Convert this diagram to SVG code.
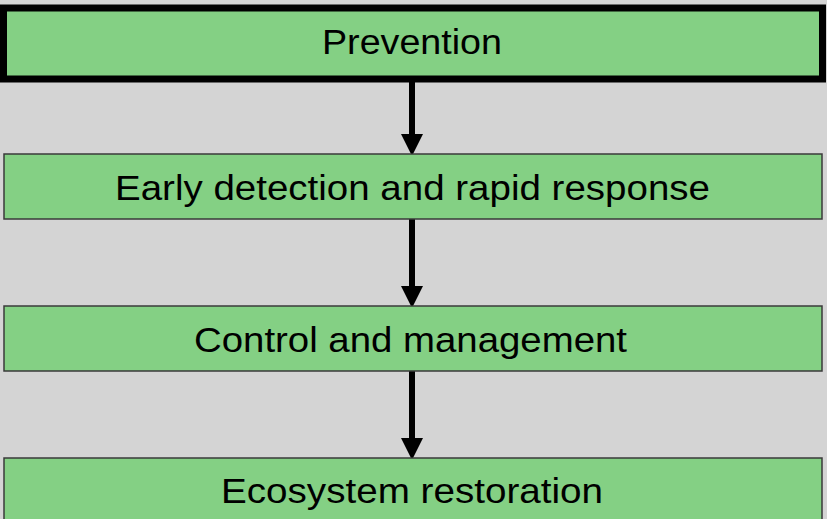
<svg xmlns="http://www.w3.org/2000/svg" width="827" height="519" viewBox="0 0 827 519">
<style>
.box{fill:#84d084;stroke:#3a3a3a;stroke-width:1.5}
.main{fill:#84d084;stroke:#000;stroke-width:7}
.lbl{font-family:"Liberation Sans",Arial,sans-serif;font-size:35px;fill:#000;text-anchor:middle}
.conn{stroke:#000;stroke-width:6;fill:none}
</style>
<defs>
<marker id="ah" markerUnits="userSpaceOnUse" markerWidth="22" markerHeight="22" refX="0" refY="10" orient="auto" viewBox="0 0 20 20">
<path d="M0,0 L20,10 L0,20 Z" fill="#000"/>
</marker>
</defs>
<rect width="827" height="519" fill="#d4d4d4"/>
<g id="connectors">
<line class="conn" x1="412" y1="82" x2="412" y2="134" marker-end="url(#ah)"/>
<line class="conn" x1="412" y1="219" x2="412" y2="286" marker-end="url(#ah)"/>
<line class="conn" x1="412" y1="371" x2="412" y2="438" marker-end="url(#ah)"/>
</g>
<g id="prevention">
<rect class="main" x="3.5" y="8" width="819" height="71"/>
<text class="lbl" x="412" y="54" textLength="180" lengthAdjust="spacingAndGlyphs">Prevention</text>
</g>
<g id="early-detection">
<rect class="box" x="4" y="154" width="818" height="65"/>
<text class="lbl" x="412.5" y="200" textLength="595" lengthAdjust="spacingAndGlyphs">Early detection and rapid response</text>
</g>
<g id="control">
<rect class="box" x="4" y="306" width="818" height="65"/>
<text class="lbl" x="410.5" y="352" textLength="433" lengthAdjust="spacingAndGlyphs">Control and management</text>
</g>
<g id="restoration">
<rect class="box" x="4" y="458" width="818" height="70"/>
<text class="lbl" x="412" y="503" textLength="382" lengthAdjust="spacingAndGlyphs">Ecosystem restoration</text>
</g>
</svg>
